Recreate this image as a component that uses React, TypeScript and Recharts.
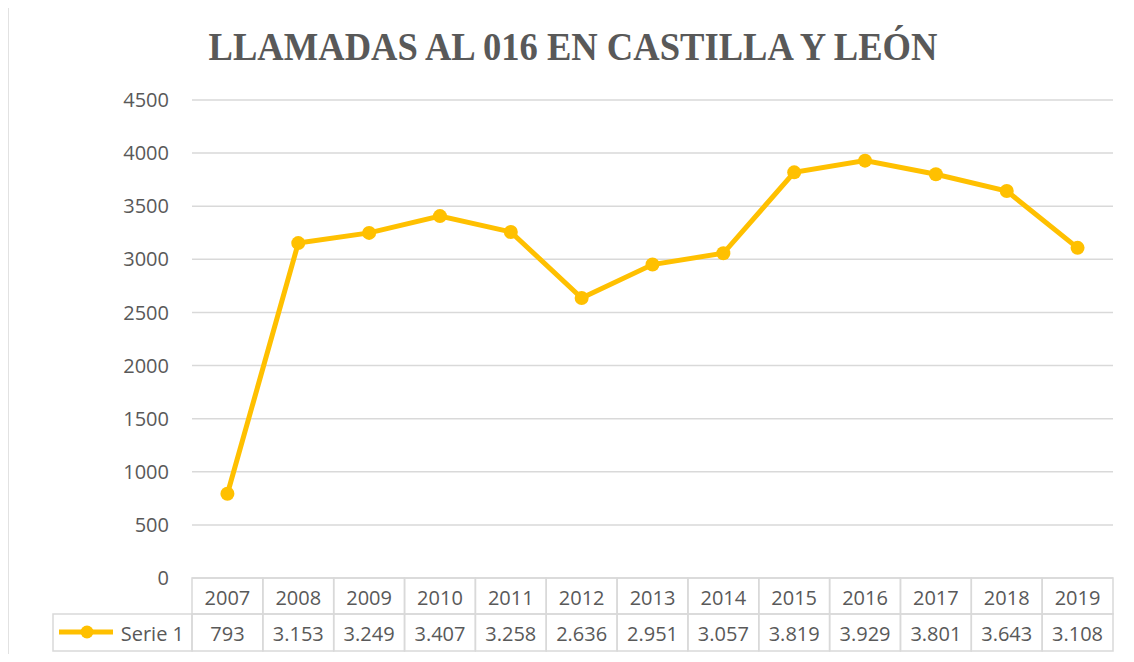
import React from "react";
import {
  LineChart,
  Line,
  XAxis,
  YAxis,
  CartesianGrid,
  Customized,
} from "recharts";

const years = ["2007", "2008", "2009", "2010", "2011", "2012", "2013", "2014", "2015", "2016", "2017", "2018", "2019"];
const calls = [793, 3153, 3249, 3407, 3258, 2636, 2951, 3057, 3819, 3929, 3801, 3643, 3108];
const yTicks = [0, 500, 1000, 1500, 2000, 2500, 3000, 3500, 4000, 4500];
const seriesName = "Serie 1";
const title = "LLAMADAS AL 016 EN CASTILLA Y LEÓN";

const data = years.map((y, i) => ({ year: y, value: calls[i] }));

const W = 1134;
const H = 662;
const MARGIN = { top: 100, right: 21, bottom: 0, left: 0 };
const Y_AXIS_W = 192;
const X_AXIS_H = 84;
const PLOT_W = W - MARGIN.left - MARGIN.right - Y_AXIS_W;
const CELL_W = PLOT_W / years.length;
const ROW1_H = 36;
const ROW2_H = 37;
const LEGEND_W = 139;

const COLOR_LINE = "#FFC000";
const COLOR_TEXT = "#595959";
const COLOR_GRID = "#d9d9d9";
const FONT = "'Open Sans', 'Noto Sans', sans-serif";

// es-ES style thousands separator
const fmt = (v: number) => String(v).replace(/\B(?=(\d{3})+(?!\d))/g, ".");

function TableTick(props: any) {
  const { x, y, payload } = props;
  const i = payload.index;
  const left = x - CELL_W / 2;
  return (
    <g>
      <rect x={left} y={y} width={CELL_W} height={ROW1_H} fill="none" stroke={COLOR_GRID} strokeWidth={1.5} />
      <rect x={left} y={y + ROW1_H} width={CELL_W} height={ROW2_H} fill="none" stroke={COLOR_GRID} strokeWidth={1.5} />
      <text x={x} y={y + 27} textAnchor="middle" fontFamily={FONT} fontSize={20} fill={COLOR_TEXT}>
        {payload.value}
      </text>
      <text x={x} y={y + ROW1_H + 27} textAnchor="middle" fontFamily={FONT} fontSize={20} fill={COLOR_TEXT}>
        {fmt(calls[i])}
      </text>
      {i === 0 && (
        <g>
          <rect x={left - LEGEND_W} y={y + ROW1_H} width={LEGEND_W} height={ROW2_H} fill="none" stroke={COLOR_GRID} strokeWidth={1.5} />
          <line x1={left - LEGEND_W + 6} x2={left - LEGEND_W + 60} y1={y + ROW1_H + 18} y2={y + ROW1_H + 18} stroke={COLOR_LINE} strokeWidth={5} />
          <circle cx={left - LEGEND_W + 34} cy={y + ROW1_H + 18} r={6.5} fill={COLOR_LINE} />
          <text x={left - 8} y={y + ROW1_H + 27} textAnchor="end" fontFamily={FONT} fontSize={20} fill={COLOR_TEXT}>
            {seriesName}
          </text>
        </g>
      )}
    </g>
  );
}

function Frame() {
  return (
    <g>
      <line x1={8} x2={W} y1={5} y2={5} stroke={COLOR_GRID} strokeWidth={1.5} />
      <line x1={8} x2={8} y1={5} y2={H} stroke={COLOR_GRID} strokeWidth={1.5} />
      <text
        x={573}
        y={60}
        textAnchor="middle"
        fontFamily="'Liberation Serif', 'DejaVu Serif', serif"
        fontWeight="bold"
        fontSize={40}
        fill={COLOR_TEXT}
        textLength={729}
        lengthAdjust="spacingAndGlyphs"
      >
        {title}
      </text>
    </g>
  );
}

export default function App() {
  return (
    <div style={{ margin: -8, width: W, height: H, background: "#fff" }}>
      <LineChart width={W} height={H} data={data} margin={MARGIN}>
        <CartesianGrid vertical={false} stroke={COLOR_GRID} strokeWidth={1.5} />
        <XAxis
          dataKey="year"
          height={X_AXIS_H}
          axisLine={false}
          tickLine={false}
          tickSize={0}
          tickMargin={0}
          interval={0}
          padding={{ left: CELL_W / 2, right: CELL_W / 2 }}
          tick={<TableTick />}
        />
        <YAxis
          width={Y_AXIS_W}
          domain={[0, 4500]}
          ticks={yTicks}
          axisLine={false}
          tickLine={false}
          tickSize={0}
          tickMargin={23}
          tick={{ fontFamily: FONT, fontSize: 20, fill: COLOR_TEXT }}
        />
        <Line
          type="linear"
          dataKey="value"
          name={seriesName}
          stroke={COLOR_LINE}
          strokeWidth={5}
          dot={{ r: 7, fill: COLOR_LINE, stroke: COLOR_LINE, strokeWidth: 0 }}
          activeDot={false}
          isAnimationActive={false}
        />
        <Customized component={Frame} />
      </LineChart>
    </div>
  );
}
